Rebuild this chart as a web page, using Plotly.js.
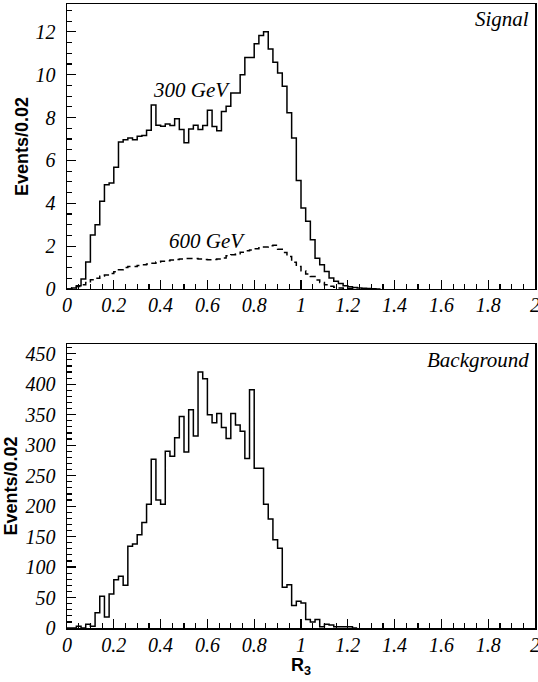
<!DOCTYPE html>
<html>
<head>
<meta charset="utf-8">
<script src="https://cdn.plot.ly/plotly-3.0.1.min.js"></script>
<style>html,body{margin:0;padding:0;background:#fff;}#chart{width:538px;height:682px;}</style>
</head>
<body>
<div id="chart"></div>
<script>
// Bin width of the histograms (R3)
const binWidth = 0.02;

// Signal, 300 GeV (events / 0.02), bins starting at R3 = 0
const signal300 = [0, 0.05, 0.15, 0.47, 1.26, 2.52, 3.0, 4.1, 4.87, 4.95,
  5.68, 6.86, 6.97, 7.05, 6.97, 7.13, 7.16, 7.41, 8.59, 7.64,
  7.6, 7.7, 7.63, 7.94, 7.44, 6.82, 7.47, 7.64, 7.44, 7.63,
  8.34, 7.58, 7.39, 8.28, 8.53, 9.15, 9.15, 10.0, 10.8, 10.8,
  11.45, 11.83, 12.0, 11.2, 10.58, 10.08, 9.46, 8.22, 7.05, 5.06,
  3.78, 3.16, 2.3, 1.43, 1.13, 0.82, 0.51, 0.36, 0.25, 0.15,
  0.1, 0.07, 0.05, 0.03, 0.02, 0.01, 0];

// Signal, 600 GeV
const signal600 = [0, 0.05, 0.12, 0.2, 0.3, 0.43, 0.5, 0.59, 0.65, 0.72,
  0.8, 0.9, 1.0, 1.05, 1.05, 1.1, 1.13, 1.17, 1.2, 1.26,
  1.3, 1.32, 1.35, 1.38, 1.4, 1.42, 1.42, 1.42, 1.4, 1.38,
  1.37, 1.38, 1.4, 1.45, 1.55, 1.6, 1.65, 1.72, 1.78, 1.82,
  1.88, 1.92, 1.96, 2.02, 2.04, 1.85, 1.7, 1.52, 1.25, 1.05,
  0.85, 0.7, 0.58, 0.42, 0.3, 0.2, 0.13, 0.08, 0.05, 0.03,
  0.02, 0];

// Background
const background = [0, 0, 3, 0, 6, 3, 25, 52, 18, 56,
  79, 85, 70, 134, 138, 153, 173, 203, 277, 210,
  203, 290, 282, 312, 347, 289, 358, 315, 420, 409,
  350, 337, 352, 329, 311, 352, 333, 323, 278, 391,
  262, 262, 203, 179, 145, 131, 67, 71, 37, 44,
  41, 14, 10, 14, 2, 6, 5, 2, 2, 2,
  2, 0];

// Tick values / labels
const xTicks = [0, 0.2, 0.4, 0.6, 0.8, 1, 1.2, 1.4, 1.6, 1.8, 2];
const xTickText = ['0', '0.2', '0.4', '0.6', '0.8', '1', '1.2', '1.4', '1.6', '1.8', '2'];
const ySigTicks = [0, 2, 4, 6, 8, 10, 12];
const yBkgTicks = [0, 50, 100, 150, 200, 250, 300, 350, 400, 450];

function steps(vals) {
  const x = [], y = [];
  vals.forEach((v, i) => { x.push(i * binWidth); y.push(v); });
  x.push(vals.length * binWidth); y.push(vals[vals.length - 1]);
  return {x, y};
}
const it = t => '<i>' + t + '</i>';

const s3 = steps(signal300), s6 = steps(signal600), bk = steps(background);

const traces = [
  {x: s3.x, y: s3.y, type: 'scatter', mode: 'lines', line: {shape: 'hv', color: '#000', width: 1.5}, xaxis: 'x', yaxis: 'y'},
  {x: s6.x, y: s6.y, type: 'scatter', mode: 'lines', line: {shape: 'hv', color: '#000', width: 1.5, dash: '6px,4px'}, xaxis: 'x', yaxis: 'y'},
  {x: bk.x, y: bk.y, type: 'scatter', mode: 'lines', line: {shape: 'hv', color: '#000', width: 1.5}, xaxis: 'x2', yaxis: 'y2'}
];

const serif = 'Liberation Serif, Times New Roman, serif';
const tickFont = {family: serif, size: 20, color: '#000'};
const titleFont = {family: 'Liberation Sans, Arial, sans-serif', size: 18, color: '#000'};

function xAx(anchor, withTitle) {
  const a = {
    anchor: anchor, range: [0, 2], tickvals: xTicks, ticktext: xTickText.map(it),
    ticks: 'inside', ticklen: 9, tickwidth: 1.2, tickcolor: '#000',
    minor: {dtick: 0.05, tick0: 0, ticks: 'inside', ticklen: 5, tickwidth: 1.2, tickcolor: '#000'},
    showline: true, linewidth: 1.5, linecolor: '#000', mirror: true,
    showgrid: false, zeroline: false, tickfont: tickFont, ticklabeloverflow: 'allow',
    ticklabelstandoff: -2, fixedrange: true
  };
  if (withTitle) a.title = {text: '<b>R</b><sub><b>3</b></sub>', font: titleFont, standoff: 0};
  return a;
}
function yAx(anchor, domain, range, ticks, minorDt) {
  return {
    anchor: anchor, domain: domain, range: range, tickvals: ticks, ticktext: ticks.map(v => it(String(v))),
    ticks: 'inside', ticklen: 9, tickwidth: 1.2, tickcolor: '#000',
    minor: {dtick: minorDt, tick0: 0, ticks: 'inside', ticklen: 5, tickwidth: 1.2, tickcolor: '#000'},
    showline: true, linewidth: 1.5, linecolor: '#000', mirror: true,
    showgrid: false, zeroline: false, tickfont: tickFont, ticklabeloverflow: 'allow',
    ticklabelstandoff: 6,
    title: {text: '<b>Events/0.02</b>', font: titleFont, standoff: 2}, fixedrange: true
  };
}

const annFont = {family: serif, size: 21, color: '#000'};
const layout = {
  width: 538, height: 682,
  margin: {l: 67, r: 3, t: 4, b: 54},
  paper_bgcolor: '#fff', plot_bgcolor: '#fff',
  showlegend: false,
  xaxis: xAx('y', false),
  yaxis: yAx('x', [0.5433, 1], [0, 13.3], ySigTicks, 0.5),
  xaxis2: xAx('y2', true),
  yaxis2: yAx('x2', [0, 0.4551], [0, 466], yBkgTicks, 10),
  annotations: [
    {xref: 'x', yref: 'y', x: 1.985, y: 12.6, text: it('Signal'), showarrow: false, xanchor: 'right', font: annFont},
    {xref: 'x2', yref: 'y2', x: 1.985, y: 440, text: it('Background'), showarrow: false, xanchor: 'right', font: annFont},
    {xref: 'x', yref: 'y', x: 0.53, y: 9.3, text: it('300 GeV'), showarrow: false, font: annFont},
    {xref: 'x', yref: 'y', x: 0.6, y: 2.25, text: it('600 GeV'), showarrow: false, font: annFont}
  ]
};

Plotly.newPlot('chart', traces, layout, {staticPlot: true, displayModeBar: false});
</script>
</body>
</html>
